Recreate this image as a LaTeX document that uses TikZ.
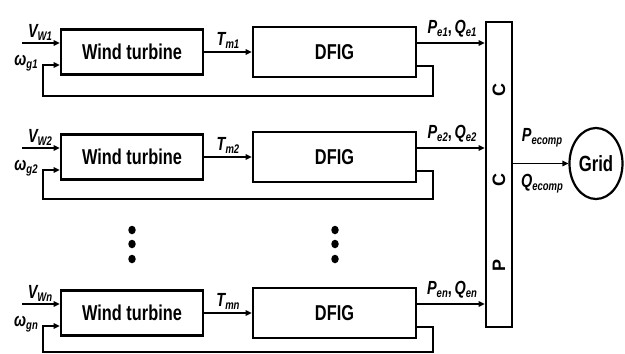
\documentclass[tikz,border=0pt]{standalone}
\usepackage{fontspec}
\usepackage{graphicx}
\setmainfont{Liberation Sans}
\usetikzlibrary{arrows.meta,shapes.geometric}
\newcommand{\sq}[1]{\scalebox{0.76}[1]{#1}}
\newcommand{\lab}[2]{\sq{\bfseries\itshape\fontsize{19}{19}\selectfont #1\raisebox{-0.3ex}{\fontsize{12.5}{12.5}\selectfont #2}}}
\begin{document}
\begin{tikzpicture}[x=1pt,y=-1pt,
  blk/.style={draw,line width=2.6pt,rectangle,inner sep=0pt,font=\bfseries\fontsize{21.5}{21.5}\selectfont},
  wtbox/.style={blk,minimum width=142pt,minimum height=45pt},
  dfbox/.style={blk,minimum width=163pt,minimum height=50pt},
  arr/.style={line width=1.8pt,-{Triangle[length=6pt,width=5.5pt]}},
  fb/.style={line width=2.6pt},
  lbl/.style={inner sep=0pt},
  dot/.style={fill,ellipse,inner sep=0pt,minimum width=7.5pt,minimum height=8.5pt}]
\useasboundingbox (0,0) rectangle (625,354);
% PCC and Grid
\node[draw,line width=2.6pt,rectangle,inner sep=0pt,minimum width=26pt,minimum height=305pt] (pcc) at (499,174.5) {};
\node[rotate=90,inner sep=0pt,font=\bfseries\fontsize{18}{18}\selectfont] (c1) at (499,90) {C};
\node[rotate=90,inner sep=0pt,font=\bfseries\fontsize{18}{18}\selectfont] (c2) at (499,180) {C};
\node[rotate=90,inner sep=0pt,font=\bfseries\fontsize{18}{18}\selectfont] (p1) at (499,265) {P};
\node[draw,ellipse,line width=2.2pt,minimum width=53pt,minimum height=71pt,inner sep=0pt,font=\bfseries\fontsize{22}{22}\selectfont] (grid) at (596,163.5) {\sq{Grid}};
\draw[arr] (pcc.east |- grid.west) -- (grid.west);
\node[lbl] (pec) at (542,138) {\lab{P}{ecomp}};
\node[lbl] (qec) at (542,184) {\lab{Q}{ecomp}};
% rows
\foreach \r/\c/\fy/\lw/\lt/\lp in {1/52/96/1/1/1, 2/157/199/2/2/2, 3/313/352/n/n/n}{
  \node[wtbox] (wt\r) at (132,\c) {\sq{Wind turbine}};
  \node[dfbox] (df\r) at (334.5,\c) {\sq{DFIG}};
  \coordinate (vin\r) at (22,\c-9);
  \coordinate (fbl\r) at (43,\fy);
  \coordinate (fbr\r) at (433,\fy);
  \coordinate (dfo\r) at (417,\c+14);
  \coordinate (dfp\r) at (417,\c-9);
  \draw[arr] (vin\r) -- (vin\r -| wt\r.west);
  \draw[arr] (wt\r.east) -- (df\r.west);
  \draw[arr] (df\r.east |- dfp\r) -- (dfp\r -| pcc.west);
  \draw[fb] (df\r.east |- dfo\r) -| (fbr\r) -- (fbl\r) -- (43,\c+13);
  \draw[arr] (42,\c+13) -- (wt\r.west |- 0,\c+13);
  \node[lbl] (vl\r) at (40,\c-20) {\lab{V}{W\lw}};
  \node[lbl] (wl\r) at (26,\c+11) {\lab{ω}{g\lw}};
  \node[lbl] (tl\r) at (228,\c-12) {\lab{T}{m\lt}};
  \node[lbl] (pl\r) at (452,\c-23) {\lab{P}{e\lp}\sq{\bfseries\fontsize{19}{19}\selectfont,} \lab{Q}{e\lp}};
}
% dots
\foreach \i/\y in {1/230,2/244,3/259}{
  \node[dot] (dl\i) at (132,\y) {};
  \node[dot] (dr\i) at (335,\y) {};
}
\end{tikzpicture}
\end{document}
